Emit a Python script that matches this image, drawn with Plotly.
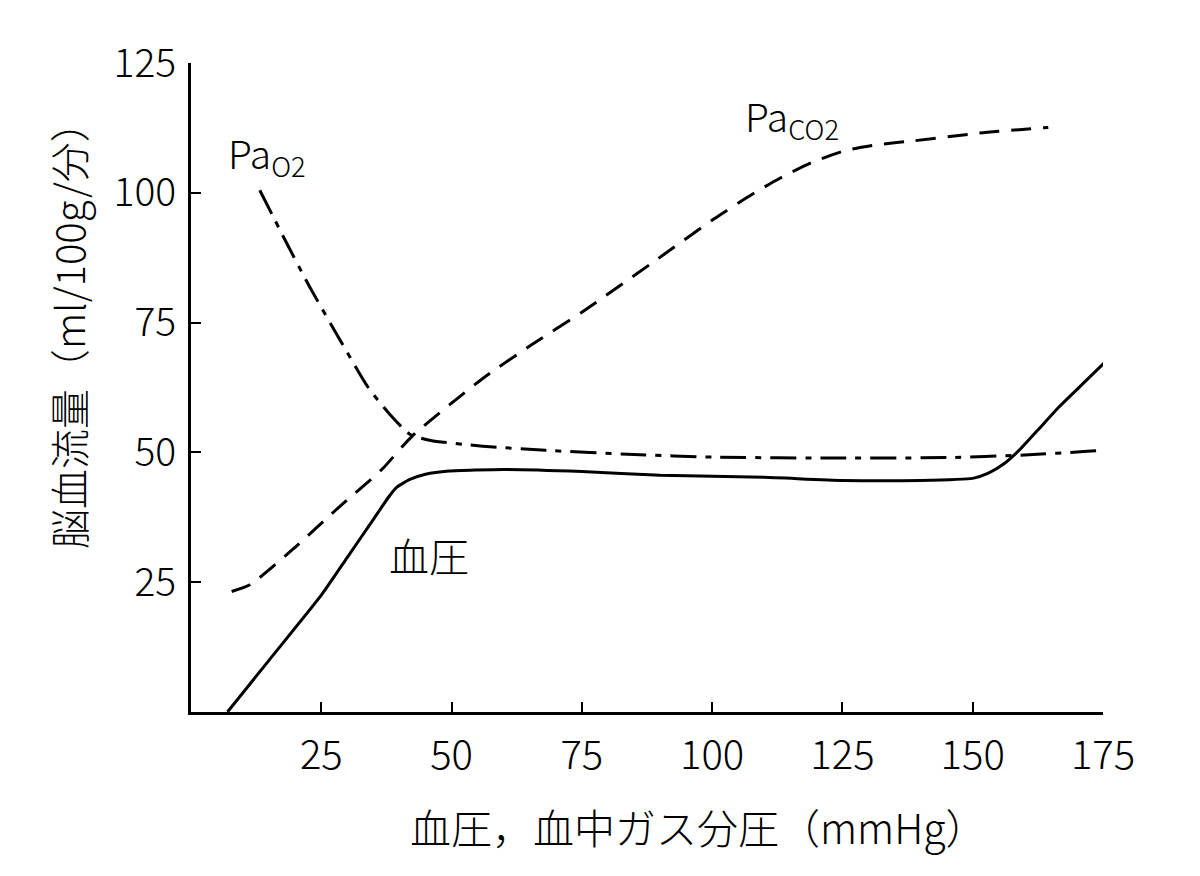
import plotly.graph_objects as go

# Blood pressure (solid)
bp_x = [7, 15, 25, 30, 35, 38, 39.5, 42, 45, 49.5, 60, 75, 90, 110, 125, 140, 150, 153, 156, 159, 162.5, 166.5, 171, 175.4]
bp_y = [0, 10, 22.5, 29.8, 37.1, 41.5, 43.3, 44.8, 45.8, 46.4, 46.7, 46.3, 45.6, 45.2, 44.6, 44.6, 45, 46, 47.8, 50.5, 54.3, 58.7, 63.1, 67.4]

# PaCO2 (dashed)
co2_x = [7.8, 11.3, 19.5, 27.9, 36.7, 42.4, 55.8, 65, 75, 89.6, 100.4, 107, 113, 119, 125.8, 132, 138.6, 151.3, 164.5]
co2_y = [23.2, 24.5, 31.3, 39, 46.8, 53.1, 64.1, 70.5, 77, 87.3, 95, 99.3, 102.8, 105.8, 108.2, 109.3, 110, 111.5, 112.6]

# PaO2 (dash-dot)
o2_x = [13.2, 18, 22.7, 28.4, 34, 38, 42, 46, 56, 68, 85, 100, 125, 145, 160, 172, 182.5]
o2_y = [100.5, 91, 82, 72, 62.5, 57.5, 53.5, 52.3, 51.2, 50.4, 49.6, 49.1, 48.9, 49, 49.5, 50.2, 50.8]

x_ticks = [25, 50, 75, 100, 125, 150, 175]
y_ticks = [25, 50, 75, 100, 125]

FONT = "Noto Sans CJK JP"

fig = go.Figure()
fig.add_trace(go.Scatter(x=bp_x, y=bp_y, mode="lines",
                         line=dict(color="black", width=3, shape="spline", smoothing=0.5),
                         cliponaxis=False, showlegend=False))
fig.add_trace(go.Scatter(x=co2_x, y=co2_y, mode="lines",
                         line=dict(color="black", width=3, dash="20px,12px", shape="spline", smoothing=0.6),
                         cliponaxis=False, showlegend=False))
fig.add_trace(go.Scatter(x=o2_x, y=o2_y, mode="lines",
                         line=dict(color="black", width=3, dash="26px,9px,6px,9px", shape="spline", smoothing=0.6),
                         cliponaxis=False, showlegend=False))

fig.add_annotation(x=14.6, y=107.3, text="Pa<sub>O2</sub>", showarrow=False,
                   font=dict(family=FONT, size=39, color="black", weight=300))
fig.add_annotation(x=115.4, y=114.6, text="Pa<sub>CO2</sub>", showarrow=False,
                   font=dict(family=FONT, size=39, color="black", weight=300))
fig.add_annotation(x=45.7, y=30.2, text="血圧", showarrow=False,
                   font=dict(family=FONT, size=40, color="black", weight=300))

# axis titles as annotations (paper coordinates)
fig.add_annotation(xref="paper", yref="paper", x=0.556, y=-0.176,
                   text="血圧，血中ガス分圧（mmHg）", showarrow=False,
                   xanchor="center", yanchor="middle",
                   font=dict(family=FONT, size=41, color="black", weight=300))
fig.add_annotation(xref="paper", yref="paper", x=-0.135, y=0.596,
                   text="脳血流量（ml/100g/分）", showarrow=False, textangle=-90,
                   xanchor="center", yanchor="middle",
                   font=dict(family=FONT, size=40, color="black", weight=300))

fig.update_layout(
    width=1200, height=876,
    paper_bgcolor="white", plot_bgcolor="white",
    margin=dict(l=183, r=105, t=55, b=172),
    font=dict(family=FONT, color="black"),
    xaxis=dict(range=[0, 175], tickvals=x_ticks, ticktext=[str(v) for v in x_ticks],
               showgrid=False, zeroline=False, showline=True, linecolor="black", linewidth=3,
               ticks="inside", ticklen=10, tickwidth=2, tickcolor="black",
               ticklabelstandoff=6,
               tickfont=dict(family=FONT, size=40, color="black", weight=300)),
    yaxis=dict(range=[0, 125], tickvals=y_ticks, ticktext=[str(v) for v in y_ticks],
               showgrid=False, zeroline=False, showline=True, linecolor="black", linewidth=3,
               ticks="inside", ticklen=10, tickwidth=2, tickcolor="black",
               ticklabelstandoff=4,
               tickfont=dict(family=FONT, size=39, color="black", weight=300)),
)

fig.write_html("out.html")
